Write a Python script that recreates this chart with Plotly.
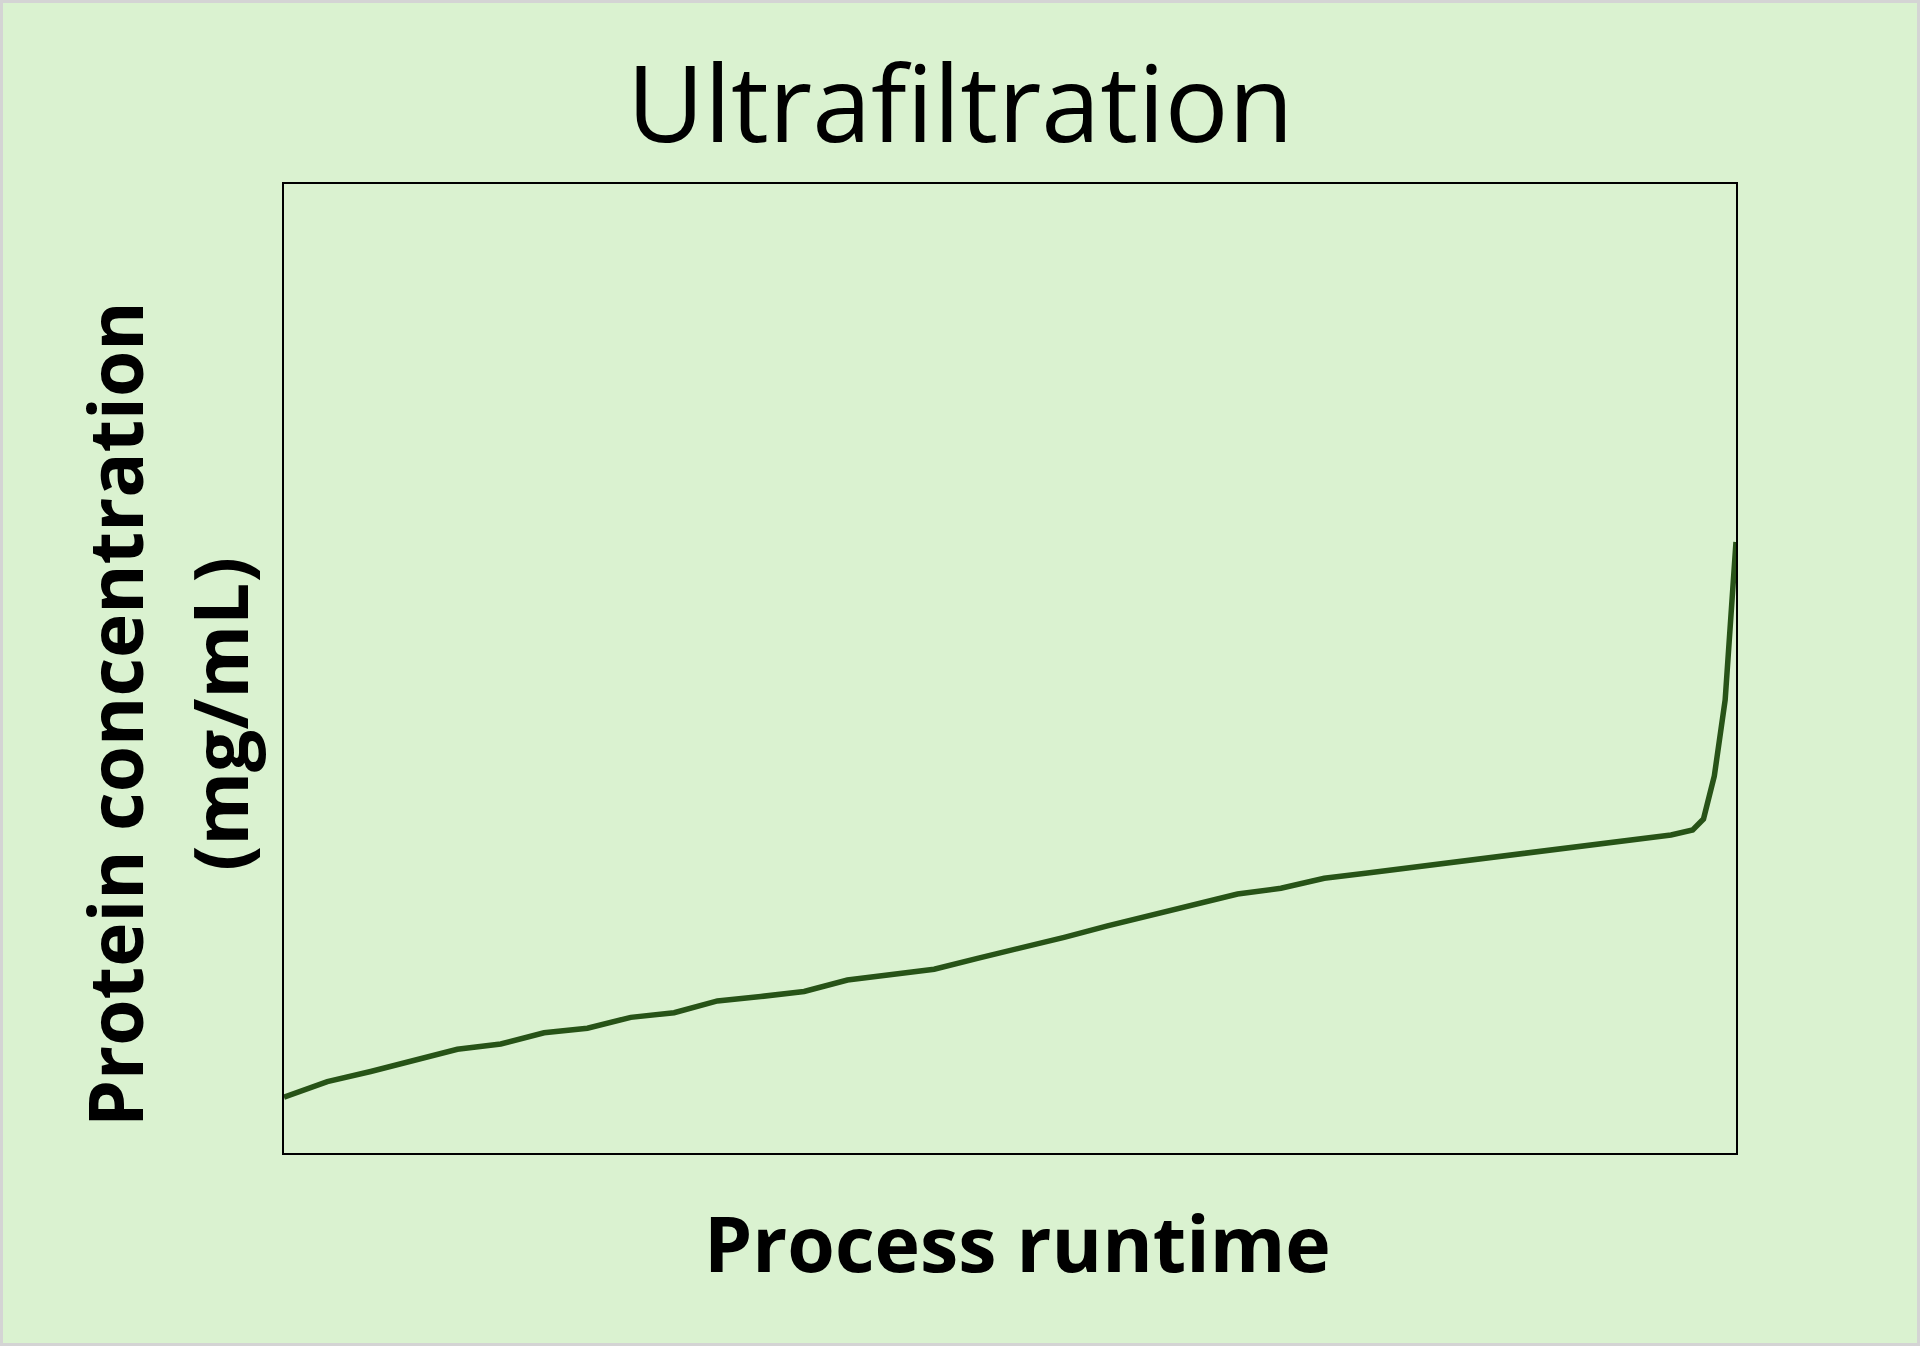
import plotly.graph_objects as go

# Process runtime (arbitrary units, no tick labels in the original)
runtime = [0, 1, 2, 3, 4, 5, 6, 7, 8, 9, 10, 11, 12, 13, 14, 15, 16, 17, 18, 19,
           20, 21, 22, 23, 24, 25, 26, 27, 28, 29, 30, 31, 32, 32.5, 32.75, 33,
           33.25, 33.5]
# Protein concentration (arbitrary units, no tick labels in the original)
concentration = [5.75, 7.36, 8.41, 9.55, 10.70, 11.25, 12.41, 12.87, 14.00, 14.48,
                 15.69, 16.15, 16.67, 17.85, 18.42, 18.96, 20.09, 21.12, 22.26,
                 23.43, 24.56, 25.70, 26.73, 27.32, 28.35, 28.90, 29.46, 30.03,
                 30.55, 31.11, 31.68, 32.25, 32.82, 33.33, 34.47, 38.91, 46.75,
                 63.05]

title_text = "Ultrafiltration"
x_title = "Process runtime"
y_title_line1 = "Protein concentration"
y_title_line2 = "(mg/mL)"

W, H = 1920, 1346
L, R, T, B = 284, 1736, 184, 1153
PW, PH = R - L, B - T


def px(X):
    return (X - L) / PW


def py(Y):
    return (B - Y) / PH


BG = "#DAF2D0"
LINE = "#275317"
FONT = "Open Sans, Roboto, Arial, sans-serif"

fig = go.Figure()
fig.add_trace(go.Scatter(x=runtime, y=concentration, mode="lines",
                         line=dict(color=LINE, width=5.5), hoverinfo="skip",
                         showlegend=False))

axis_common = dict(showgrid=False, zeroline=False, showticklabels=False,
                   ticks="", showline=True, linecolor="black", linewidth=2,
                   mirror=True)

fig.update_layout(
    width=W, height=H,
    margin=dict(l=L, r=W - R, t=T, b=H - B, pad=0),
    paper_bgcolor=BG, plot_bgcolor=BG,
    xaxis=dict(range=[0, 33.5], **axis_common),
    yaxis=dict(range=[0, 100], **axis_common),
    font=dict(family=FONT, color="black"),
)

anns = [
    dict(text=title_text, x=px(960), y=py(101), font=dict(size=106, family=FONT)),
    dict(text="<b>%s</b>" % x_title, x=px(1018), y=py(1242), font=dict(size=77, family=FONT)),
    dict(text="<b>%s</b>" % y_title_line1, x=px(114), y=py(714), textangle=-90,
         font=dict(size=75, family=FONT)),
    dict(text="<b>%s</b>" % y_title_line2, x=px(219), y=py(714), textangle=-90,
         font=dict(size=75, family=FONT)),
]
for a in anns:
    fig.add_annotation(xref="paper", yref="paper", showarrow=False,
                       xanchor="center", yanchor="middle", **a)

# thin grey frame around the whole picture
fig.add_shape(type="rect", xref="paper", yref="paper",
              x0=px(1.5), x1=px(W - 1.5), y0=py(H - 1.5), y1=py(1.5),
              line=dict(color="#D4D4D4", width=3), fillcolor="rgba(0,0,0,0)",
              layer="above")

fig.write_html("out.html", config={"displayModeBar": False},
               post_script="document.body.style.margin='0';document.body.style.overflow='hidden';")
